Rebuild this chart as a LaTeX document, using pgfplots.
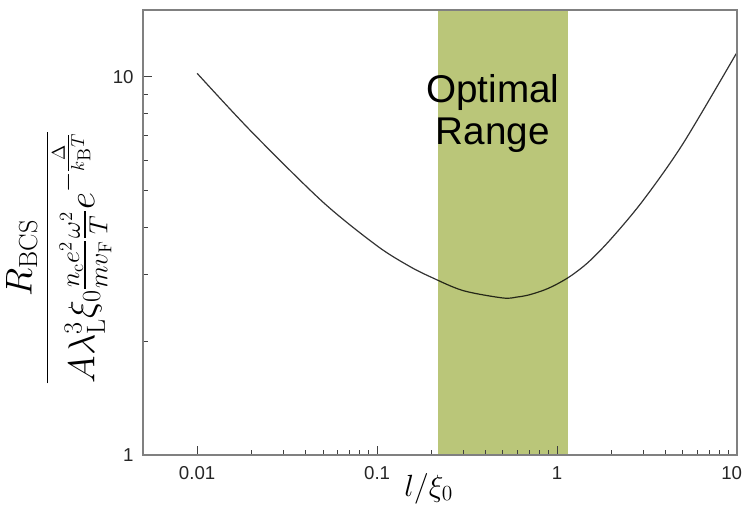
\RequirePackage{fix-cm}
\documentclass[border=0pt]{standalone}
\usepackage{amsmath}
\usepackage[no-math]{fontspec}
\setmainfont{Liberation Sans}
\usepackage{pgfplots}
\pgfplotsset{compat=1.18}
\definecolor{bandgreen}{RGB}{186,198,121}
\definecolor{axisgray}{RGB}{128,128,128}

\begin{document}
\begin{tikzpicture}
\begin{axis}[
    xmode=log, ymode=log,
    scale only axis,
    width=445.5pt, height=333.75pt,
    xmin=0.005, xmax=10, ymin=1, ymax=15,
    axis on top,
    axis line style={axisgray, line width=0.9pt},
    xtick={0.01,0.1,1,10}, xticklabels={0.01,0.1,1,{\kern-8pt 10}},
    ytick={1,10}, yticklabels={1,10},
    xtick pos=bottom, ytick pos=left,
    tick align=inside,
    major tick length=6.5pt, minor tick length=3.5pt,
    every tick/.style={black!75, line width=0.6pt},
    tick label style={font=\fontsize{14}{16}\selectfont, text=black!85},
    xticklabel style={yshift=-5pt},
    yticklabel style={xshift=-3.5pt},
    xlabel={$l/\xi_0$},
    xlabel style={at={(axis description cs:0.481,-0.075)}, anchor=center, font=\fontsize{23}{27}\selectfont},
    ylabel={$\dfrac{R_{\mathrm{BCS}}}{A\lambda_{\mathrm{L}}^{3}\xi_0\frac{n_{\mathrm{c}}e^{2}}{mv_{\mathrm{F}}}\frac{\omega^{2}}{T}e^{-\frac{\Delta}{k_{\mathrm{B}}T}}}$},
    ylabel style={at={(axis description cs:-0.142,0.443)}, anchor=center, font=\fontsize{28}{33}\selectfont},
]

% optimal range band
\addplot[draw=none, fill=bandgreen] coordinates {(0.218,1) (1.15,1) (1.15,15) (0.218,15)} -- cycle;

\addplot[black, opacity=0.8, line width=0.9pt, smooth] coordinates {
    (0.01,10.2) (0.02,7.16) (0.05,4.66) (0.1,3.57) (0.15,3.16)
    (0.2,2.95) (0.3,2.72) (0.5,2.60) (0.6,2.615) (0.7,2.65)
    (0.85,2.73) (1,2.83) (1.2,2.98) (1.5,3.24) (2,3.73)
    (3,4.70) (5,6.64) (9.9,11.5)
};

\node[align=center, font=\fontsize{29}{31.5}\selectfont] at (axis cs:0.44,8) {Optimal\\Range};

\coordinate (sw) at (rel axis cs:0,0);
\coordinate (ne) at (rel axis cs:1,1);
\end{axis}
\pgfresetboundingbox
\path ([shift={(-107.25pt,-45.75pt)}]sw) rectangle ([shift={(5.25pt,7.5pt)}]ne);
\end{tikzpicture}
\end{document}
